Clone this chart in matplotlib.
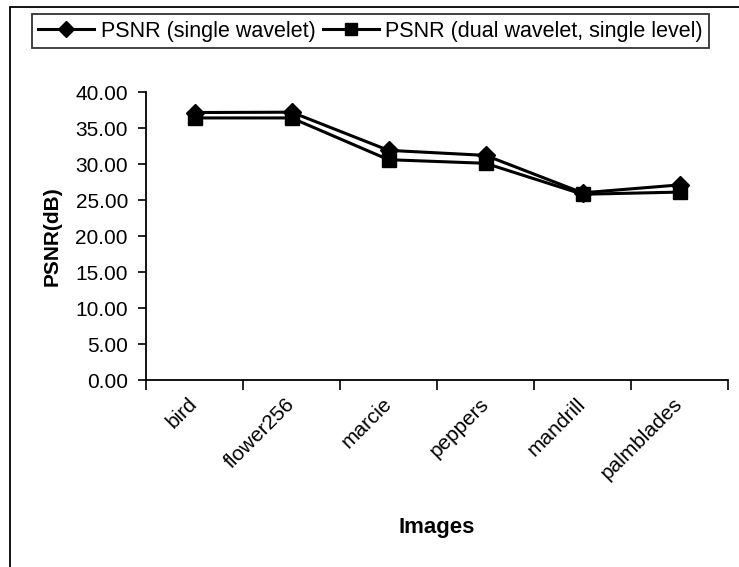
import matplotlib
matplotlib.use("Agg")
import matplotlib.pyplot as plt
from matplotlib.patches import Rectangle
from matplotlib.ticker import FormatStrFormatter, FixedLocator

plt.rcParams['font.family'] = ['Liberation Sans', 'DejaVu Sans']

# PSNR per test image, two coding schemes
images = ["bird", "flower256", "marcie", "peppers", "mandrill", "palmblades"]
psnr_single = [37.15, 37.2, 31.9, 31.2, 26.0, 27.1]
psnr_dual = [36.4, 36.4, 30.6, 30.1, 25.8, 26.1]
y_ticks = [0, 5, 10, 15, 20, 25, 30, 35, 40]

fig = plt.figure(figsize=(7.39, 5.67), dpi=100)
ax = fig.add_axes([0.1976, 0.3298, 0.7876, 0.5079])

x = [i + 0.5 for i in range(len(images))]
ax.plot(x, psnr_single, color='black', lw=2.2, marker='D', ms=9,
        label='PSNR (single wavelet)', clip_on=False, zorder=3)
ax.plot(x, psnr_dual, color='black', lw=2.2, marker='s', ms=10,
        label='PSNR (dual wavelet, single level)', clip_on=False, zorder=3)

ax.set_xlim(0, len(images))
ax.set_ylim(0, 40)
ax.set_yticks(y_ticks)
ax.yaxis.set_major_formatter(FormatStrFormatter('%.2f'))
ax.tick_params(axis='y', direction='out', length=6, width=1.2, pad=7, labelsize=15)

# category labels sit between the boundary ticks, like a spreadsheet axis
ax.set_xticks(x)
ax.set_xticklabels(images)
ax.xaxis.set_minor_locator(FixedLocator(range(len(images) + 1)))
ax.tick_params(axis='x', which='major', length=0, pad=15, labelsize=15)
ax.tick_params(axis='x', which='minor', direction='out', length=7, width=1.2)
for lab in ax.get_xticklabels():
    lab.set_rotation(45)
    lab.set_ha('right')
    lab.set_va('center')
    lab.set_rotation_mode('anchor')

for side in ('top', 'right'):
    ax.spines[side].set_visible(False)
for side in ('left', 'bottom'):
    ax.spines[side].set_linewidth(1.3)

ax.set_ylabel('PSNR(dB)', fontsize=15, fontweight='bold')
ax.yaxis.set_label_coords(-0.145, 0.5)
ax.set_xlabel('Images', fontsize=16, fontweight='bold')
ax.xaxis.set_label_coords(0.5, -0.475)

leg = fig.legend(loc='center left', bbox_to_anchor=(0.043, 0.945), ncol=2,
                 fontsize=15.5, frameon=True, fancybox=False, handlelength=2.6,
                 handletextpad=0.3, columnspacing=0.35, borderpad=0.3,
                 borderaxespad=0, markerscale=0.9)
leg.get_frame().set_edgecolor('black')
leg.get_frame().set_linewidth(1.3)

# chart area border (only left and top edges fall inside the image)
fig.add_artist(Rectangle((0.013, -0.2), 1.2, 1.187, transform=fig.transFigure,
                         fill=False, edgecolor='black', lw=1.3))

fig.savefig('out.png', dpi=100)
